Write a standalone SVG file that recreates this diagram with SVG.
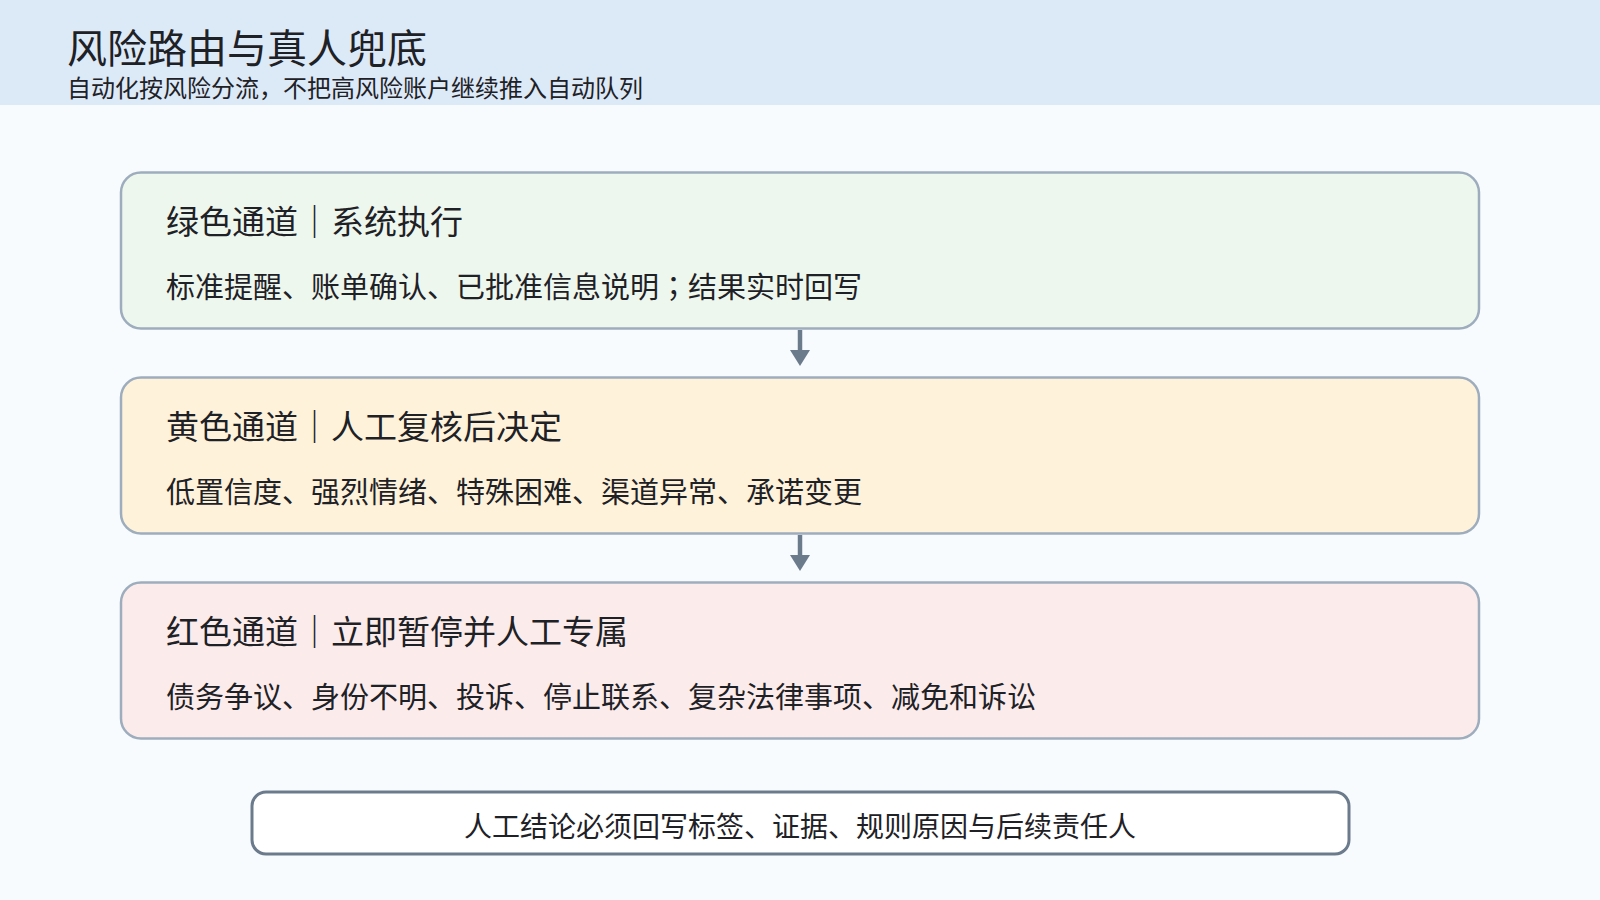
<svg xmlns="http://www.w3.org/2000/svg" width="1600" height="900" viewBox="0 0 1600 900">
<style>
text{font-family:"Noto Sans CJK SC","Noto Sans",sans-serif;fill:#1e2126}
.jp{font-family:"Noto Sans CJK JP","Noto Sans CJK SC",sans-serif}
.title{font-size:40px}
.sub{font-size:24px}
.lane{stroke:#9dadbd;stroke-width:2.5}
.h{font-size:33px}
.b{font-size:29px}
.conn line{stroke:#6b7b8c;stroke-width:4.5}
.conn polygon{fill:#6b7b8c}
</style>
<rect x="0" y="0" width="1600" height="900" fill="#f8fbfe"/>
<g id="header">
<rect x="0" y="0" width="1600" height="105" fill="#dce9f6"/>
<text class="title" x="67" y="63">风险路由与真人兜底</text>
<text class="sub" x="67" y="97">自动化按风险分流，不把高风险账户继续推入自动队列</text>
</g>
<g id="green">
<rect class="lane" x="121" y="172.5" width="1358" height="156" rx="20" fill="#eef7ee"/>
<text class="h" x="166" y="234">绿色通道｜系统执行</text>
<text class="b" x="166" y="298">标准提醒、账单确认、已批准信息说明<tspan class="jp">；</tspan>结果实时回写</text>
</g>
<g id="yellow">
<rect class="lane" x="121" y="377.5" width="1358" height="156" rx="20" fill="#fef3da"/>
<text class="h" x="166" y="439">黄色通道｜人工复核后决定</text>
<text class="b" x="166" y="503">低置信度、强烈情绪、特殊困难、渠道异常、承诺变更</text>
</g>
<g id="red">
<rect class="lane" x="121" y="582.5" width="1358" height="156" rx="20" fill="#fbeceb"/>
<text class="h" x="166" y="644">红色通道｜立即暂停并人工专属</text>
<text class="b" x="166" y="708">债务争议、身份不明、投诉、停止联系、复杂法律事项、减免和诉讼</text>
</g>
<g id="note">
<rect x="252" y="792" width="1097" height="62" rx="14" fill="#ffffff" stroke="#6b7b8c" stroke-width="3"/>
<text x="800" y="837" font-size="28" text-anchor="middle">人工结论必须回写标签、证据、规则原因与后续责任人</text>
</g>
<g id="connectors" class="conn">
<line x1="800" y1="330" x2="800" y2="352"/>
<polygon points="790,350 810,350 800,366"/>
<line x1="800" y1="535" x2="800" y2="557"/>
<polygon points="790,555 810,555 800,571"/>
</g>
</svg>
